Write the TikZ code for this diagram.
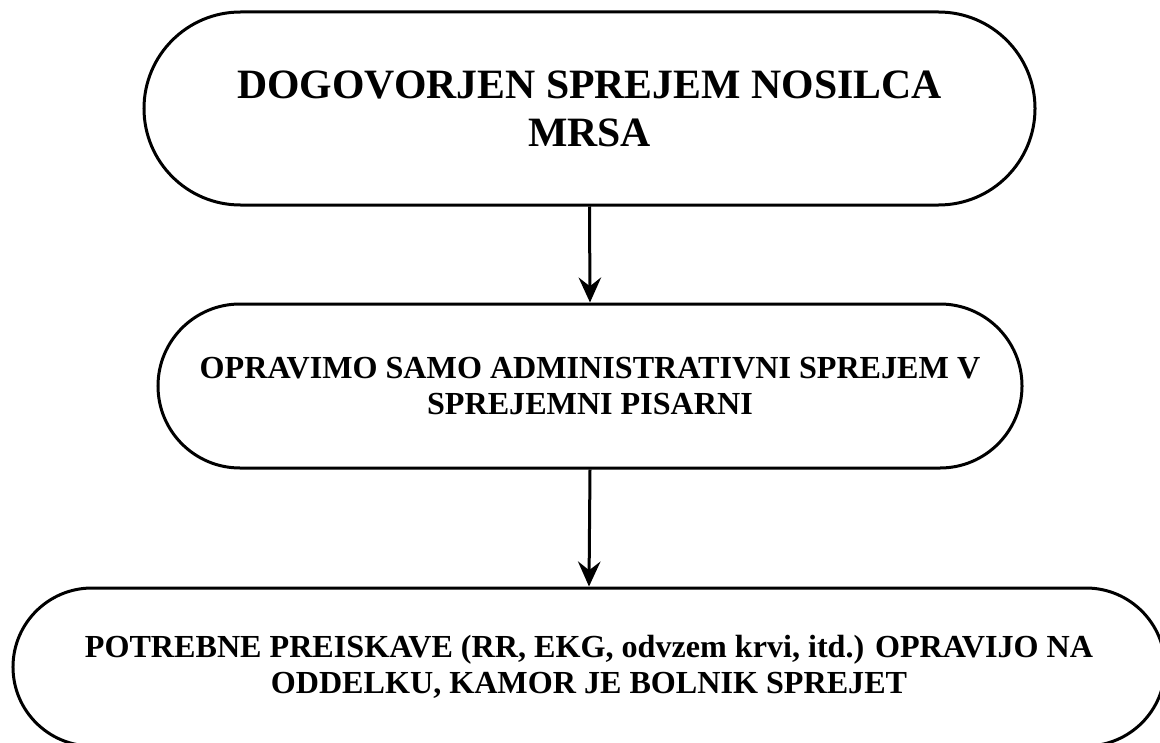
\documentclass[tikz,border=0pt]{standalone}
\usepackage{fontspec}
\setmainfont{Liberation Serif}
\usetikzlibrary{arrows.meta,positioning}

\begin{document}
\begin{tikzpicture}[x=0.4pt,y=0.4pt]
  \path[use as bounding box] (0,0) rectangle (1160,742);

  \tikzset{
    mrsaStep/.style={
      draw=black,
      fill=white,
      line width=1.2pt,
      inner sep=0pt,
      align=center,
      text=black,
      font=\bfseries\fontsize{12.85}{14.4}\selectfont
    },
    mrsaHead/.style={
      mrsaStep,
      minimum width=356.4pt,
      minimum height=77.2pt,
      rounded corners=38.6pt,
      font=\bfseries\fontsize{16.7}{19.2}\selectfont
    },
    mrsaFlow/.style={
      -{Stealth[length=10pt,width=9pt,inset=3.5pt]},
      draw=black,
      line width=1.2pt
    }
  }

  % Sprejem nosilca: od dogovora do preiskav na oddelku.
  \node[mrsaHead] (dogovor) at (589.5,633.5)
    {DOGOVORJEN SPREJEM NOSILCA\\MRSA};
  \node[mrsaStep,minimum width=345.6pt,minimum height=65.6pt,rounded corners=32.8pt]
    (pisarna) at (590,356)
    {OPRAVIMO SAMO ADMINISTRATIVNI SPREJEM V\\SPREJEMNI PISARNI};
  \node[mrsaStep,minimum width=460.8pt,minimum height=63.2pt,rounded corners=31.6pt]
    (oddelek) at (589,75)
    {POTREBNE PREISKAVE (RR, EKG, odvzem krvi, itd.) OPRAVIJO NA\\ODDELKU, KAMOR JE BOLNIK SPREJET};

  \draw[mrsaFlow] (dogovor.south) -- (pisarna.north);
  \draw[mrsaFlow] (pisarna.south) -- (oddelek.north);
\end{tikzpicture}
\end{document}
